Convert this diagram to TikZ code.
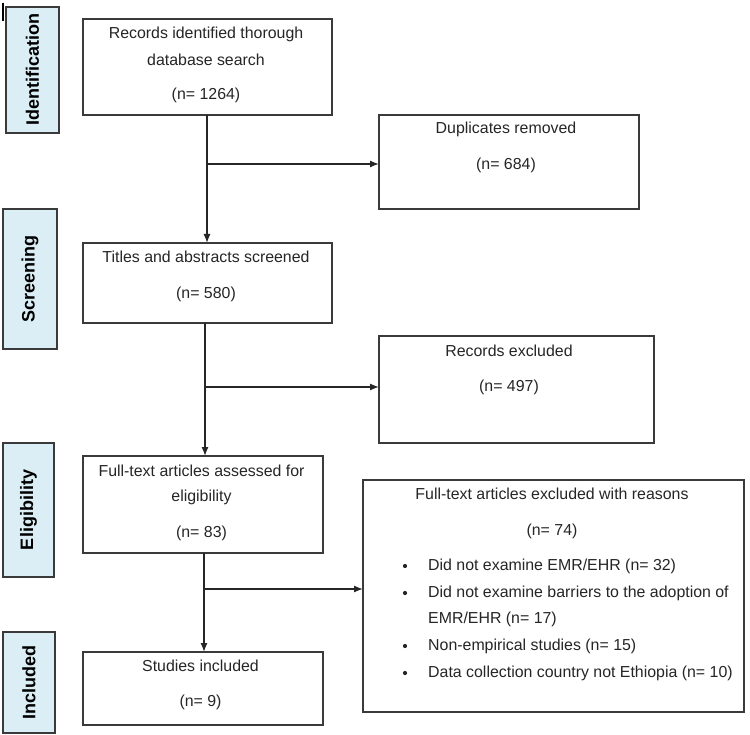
\documentclass[tikz,border=0pt]{standalone}
\usepackage{fontspec}
\setmainfont{Liberation Sans}
\usetikzlibrary{arrows.meta,calc}
\definecolor{sidefill}{HTML}{DCEEF5}
\definecolor{edge}{HTML}{3A3A3A}
\definecolor{ink}{HTML}{262626}
\begin{document}
\begin{tikzpicture}[x=1pt,y=-1pt,
  box/.style={draw=edge,line width=1.2pt,fill=white,inner sep=0pt,outer sep=0pt},
  side/.style={draw=edge,line width=1.2pt,fill=sidefill,inner sep=0pt,outer sep=0pt},
  txt/.style={text=ink,font=\fontsize{15.9}{18}\selectfont,inner sep=0pt,anchor=center},
  ltxt/.style={txt,anchor=west},
  stxt/.style={text=black,font=\fontsize{18}{20}\selectfont\bfseries,rotate=90,inner sep=0pt},
  arr/.style={draw=ink,line width=1.3pt,-{Latex[length=9pt,width=7pt]}},
  ln/.style={draw=ink,line width=1.3pt}]
\useasboundingbox (0,0) rectangle (750,735);
% small mark top-left
\coordinate (m1) at (3,3);
\coordinate (m2) at (3,21);
\draw[line width=1.2pt] (m1) -- (m2);
% side labels
\path[side] (6,7) rectangle (59,133) node[stxt,midway] (sid) {Identification};
\path[side] (3,209) rectangle (57,349) node[stxt,midway] (sscr) {Screening};
\path[side] (3,443) rectangle (54,577) node[stxt,midway] (selig) {Eligibility};
\path[side] (3,632) rectangle (55,733) node[stxt,midway] (sinc) {Included};
% boxes
\node[box,minimum width=249pt,minimum height=96pt] (b1) at (207.5,67) {};
\node[box,minimum width=260pt,minimum height=94pt] (b2) at (509,162) {};
\node[box,minimum width=249pt,minimum height=80pt] (b3) at (207.5,283) {};
\node[box,minimum width=275pt,minimum height=107pt] (b4) at (516.5,389.5) {};
\node[box,minimum width=240pt,minimum height=97pt] (b5) at (203,504.5) {};
\node[box,minimum width=381pt,minimum height=232pt] (b6) at (553.5,596) {};
\node[box,minimum width=240pt,minimum height=73pt] (b7) at (203,688.5) {};
% texts
\node[txt] (t1a) at (206,34) {Records identified thorough};
\node[txt] (t1b) at (206,60) {database search};
\node[txt] (t1c) at (206,95) {(n= 1264)};
\node[txt] (t2a) at (506,129) {Duplicates removed};
\node[txt] (t2b) at (506,165) {(n= 684)};
\node[txt] (t3a) at (206,257) {Titles and abstracts screened};
\node[txt] (t3b) at (206,294) {(n= 580)};
\node[txt] (t4a) at (509,351) {Records excluded};
\node[txt] (t4b) at (509,387) {(n= 497)};
\node[txt] (t5a) at (201.5,471) {Full-text articles assessed for};
\node[txt] (t5b) at (201.5,497) {eligibility};
\node[txt] (t5c) at (201.5,533) {(n= 83)};
\node[txt] (t7a) at (200.5,666) {Studies included};
\node[txt] (t7b) at (200.5,702) {(n= 9)};
\node[txt] (t6a) at (552,494) {Full-text articles excluded with reasons};
\node[txt] (t6b) at (552,531) {(n= 74)};
\foreach \y in {566,593,646,673}{
  \fill[ink] (405,\y) circle (2.1pt);
}
\node[ltxt] (u1) at (428,566) {Did not examine EMR/EHR (n= 32)};
\node[ltxt] (u2) at (428,593) {Did not examine barriers to the adoption of};
\node[ltxt] (u3) at (428,619) {EMR/EHR (n= 17)};
\node[ltxt] (u4) at (428,646) {Non-empirical studies (n= 15)};
\node[ltxt] (u5) at (428,673) {Data collection country not Ethiopia (n= 10)};
% connectors
\coordinate (j1) at (207,164);
\coordinate (j2) at (205,387);
\coordinate (j3) at (204,589);
\draw[arr] (b1.south -| j1) -- (b3.north -| j1);
\draw[arr] (j1) -- (j1 -| b2.west);
\draw[arr] (b3.south -| j2) -- (b5.north -| j2);
\draw[arr] (j2) -- (j2 -| b4.west);
\draw[arr] (b5.south -| j3) -- (b7.north -| j3);
\draw[arr] (j3) -- (j3 -| b6.west);
\end{tikzpicture}
\end{document}
